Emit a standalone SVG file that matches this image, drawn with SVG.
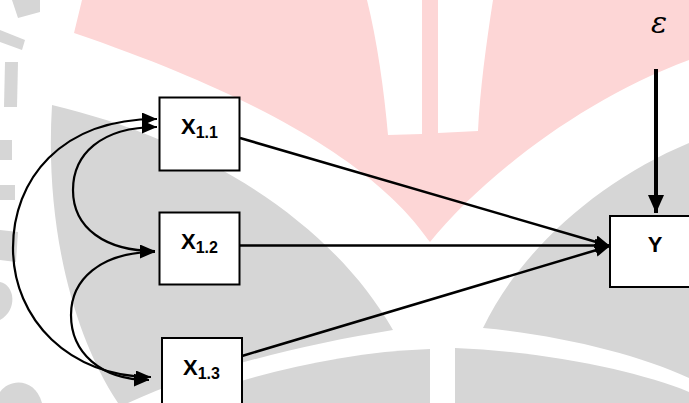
<svg xmlns="http://www.w3.org/2000/svg" width="689" height="403" viewBox="0 0 689 403">
<style>
.wm-gray{fill:#d6d6d6;stroke:none}
.wm-pink{fill:#fdd6d6;stroke:none}
.wm-white{fill:#ffffff;stroke:none}
.box{fill:#ffffff;stroke:#000000;stroke-width:2}
.lbl{font-family:"Liberation Sans",Arial,sans-serif;font-weight:bold;font-size:22px;fill:#000000}
.sub{font-size:16px}
.edge{fill:none;stroke:#000000;stroke-width:2.5}
.curve{fill:none;stroke:#000000;stroke-width:2.2}
</style>
<defs>
<marker id="ah" markerUnits="userSpaceOnUse" markerWidth="15" markerHeight="13" refX="15" refY="6.5" orient="auto-start-reverse">
<path d="M0,0 L15,6.5 L0,13 z" fill="#000000"/>
</marker>
<marker id="ahbig" markerUnits="userSpaceOnUse" markerWidth="18" markerHeight="16" refX="18" refY="8" orient="auto">
<path d="M0,0 L18,8 L0,16 z" fill="#000000"/>
</marker>
</defs>
<rect x="0" y="0" width="689" height="403" fill="#ffffff"/>
<g id="watermark">
<path class="wm-pink" d="M82,0 L689,0 L689,60 C580,100 480,180 430,242 C400,200 330,120 74,33 Z"/>
<path class="wm-white" d="M367,0 L422,0 L422,134 L388,135 C384,90 377,40 367,0 Z"/>
<path class="wm-white" d="M438,0 L493,0 C486,45 480,90 478,131 L438,133 Z"/>
<path class="wm-gray" d="M52,105 C200,140 330,220 393,330 C300,345 200,370 128,403 L118,403 C70,330 45,220 52,105 Z"/>
<path class="wm-gray" d="M689,143 C600,180 520,250 483,328 C560,335 640,355 689,378 Z"/>
<path class="wm-gray" d="M175,403 C250,375 340,352 430,349 L430,403 Z"/>
<path class="wm-gray" d="M455,348 C550,352 640,372 689,392 L689,403 L455,403 Z"/>
<path class="wm-gray" d="M12,0 L40,0 L40,12 L18,18 Z"/>
<path class="wm-gray" d="M0,30 L25,40 L22,50 L0,42 Z"/>
<path class="wm-gray" d="M5,62 L18,62 L17,107 L4,107 Z"/>
<path class="wm-gray" d="M0,140 L12,140 L12,160 L0,160 Z"/>
<path class="wm-gray" d="M0,185 L15,185 L15,200 L0,200 Z"/>
<path class="wm-gray" d="M0,230 L18,232 L16,262 L0,260 Z"/>
<path class="wm-gray" d="M0,282 C15,285 18,310 0,320 Z"/>
<path class="wm-gray" d="M0,392 C10,378 35,378 42,403 L0,403 Z"/>
</g>
<g id="connectors">
<path class="edge" d="M240,138 L610,246" marker-end="url(#ah)"/>
<path class="edge" d="M240,245.5 L610,245.5" marker-end="url(#ah)"/>
<path class="edge" d="M242,356 L610,246" marker-end="url(#ah)"/>
<path d="M656,69 L656,213" fill="none" stroke="#000000" stroke-width="4" marker-end="url(#ahbig)"/>
<path class="curve" d="M157,119 C60,119 13,180 13,248 C13,320 70,377 151,377" marker-start="url(#ah)" marker-end="url(#ah)"/>
<path class="curve" d="M157,127 C100,127 73,155 73,190 C73,228 105,251 155,251" marker-start="url(#ah)" marker-end="url(#ah)"/>
<path class="curve" d="M155,252 C100,252 71,280 71,315 C71,352 100,380 149,380" marker-start="url(#ah)" marker-end="url(#ah)"/>
</g>
<g id="node-x11">
<rect class="box" x="159.5" y="97.5" width="80" height="73"/>
<text class="lbl" x="181" y="134">X<tspan class="sub" dy="4">1.1</tspan></text>
</g>
<g id="node-x12">
<rect class="box" x="159.5" y="212.5" width="80" height="72"/>
<text class="lbl" x="181" y="249">X<tspan class="sub" dy="4">1.2</tspan></text>
</g>
<g id="node-x13">
<rect class="box" x="162" y="338" width="80" height="80"/>
<text class="lbl" x="183" y="375">X<tspan class="sub" dy="4">1.3</tspan></text>
</g>
<g id="node-y">
<rect class="box" x="610" y="216" width="90" height="71"/>
<text class="lbl" x="655" y="252" text-anchor="middle">Y</text>
</g>
<g id="node-epsilon">
<text x="659" y="33" text-anchor="middle" font-family="'DejaVu Serif','Liberation Serif',serif" font-style="italic" font-size="30" fill="#000000">ε</text>
</g>
</svg>
